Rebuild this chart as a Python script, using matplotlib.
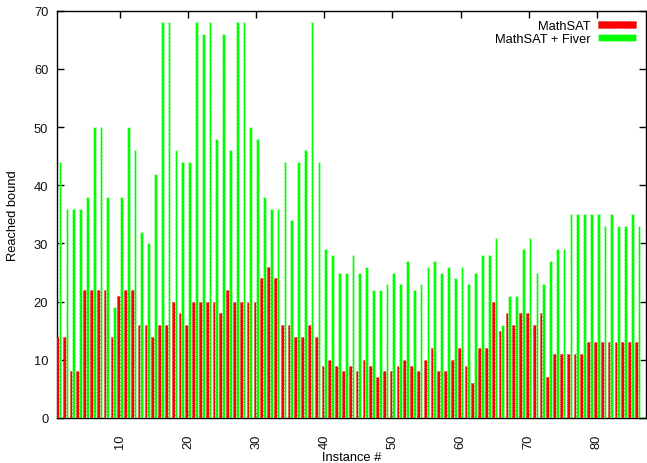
import matplotlib
matplotlib.use("Agg")
import matplotlib.pyplot as plt
import numpy as np

plt.rcParams['font.family'] = ['Liberation Sans', 'DejaVu Sans']

instances = list(range(1, 87))
mathsat = [14, 14, 8, 8, 22, 22, 22, 22, 14, 21,
           22, 22, 16, 16, 14, 16, 16, 20, 18, 16,
           20, 20, 20, 20, 18, 22, 20, 20, 20, 20,
           24, 26, 24, 16, 16, 14, 14, 16, 14, 9,
           10, 9, 8, 9, 8, 10, 9, 7, 8, 8,
           9, 10, 9, 8, 10, 12, 8, 8, 10, 12,
           9, 6, 12, 12, 20, 15, 18, 16, 18, 18,
           16, 18, 7, 11, 11, 11, 11, 11, 13, 13,
           13, 13, 13, 13, 13, 13]
fiver = [44, 36, 36, 36, 38, 50, 50, 38, 19, 38,
         50, 46, 32, 30, 42, 68, 68, 46, 44, 44,
         68, 66, 68, 48, 66, 46, 68, 68, 50, 48,
         38, 36, 36, 44, 34, 44, 46, 68, 44, 29,
         28, 25, 25, 28, 25, 26, 22, 22, 23, 25,
         23, 27, 22, 23, 26, 27, 25, 26, 24, 26,
         23, 25, 28, 28, 31, 16, 21, 21, 29, 31,
         25, 23, 27, 29, 29, 35, 35, 35, 35, 35,
         33, 35, 33, 33, 35, 33]
series_labels = ["MathSAT", "MathSAT + Fiver"]
xticks = [10, 20, 30, 40, 50, 60, 70, 80]
yticks = [0, 10, 20, 30, 40, 50, 60, 70]

fs = 9.3
fig = plt.figure(figsize=(6.47, 4.64), dpi=100)
ax = fig.add_axes([0.0886, 0.0970, 0.9091, 0.8778])

x = np.array(instances, dtype=float)
w = 0.4
ax.bar(x - w / 2, mathsat, width=w, color='#ff0000', edgecolor='#c00000',
       linewidth=0.5, linestyle=':', zorder=3, label=series_labels[0])
ax.bar(x + w / 2, fiver, width=w, color='#00ff00', edgecolor='#d8ffd8',
       linewidth=0.5, linestyle='--', zorder=3, label=series_labels[1])

ax.set_xlim(0.79, 87.15)
ax.set_ylim(0, 70)
ax.set_xticks(xticks)
ax.set_xticklabels([str(t) for t in xticks], rotation=90, fontsize=fs)
ax.set_yticks(yticks)
ax.set_yticklabels([str(t) for t in yticks], fontsize=fs)
ax.tick_params(direction='in', length=5, width=1, top=True, right=True,
               colors='black', labelcolor='#111111')
ax.tick_params(axis='x', pad=11)
ax.tick_params(axis='y', pad=6.5)
for s in ax.spines.values():
    s.set_linewidth(1.0)
    s.set_color('black')

ax.set_xlabel("Instance #", fontsize=fs, labelpad=2)
ax.set_ylabel("Reached bound", fontsize=fs, labelpad=11)

leg = ax.legend(loc='upper right', frameon=False, fontsize=fs, markerfirst=False,
                handlelength=2.95, handleheight=0.5, handletextpad=0.55,
                labelspacing=0.05, borderaxespad=0.45, borderpad=0.3)

fig.savefig("out.png", dpi=100)
